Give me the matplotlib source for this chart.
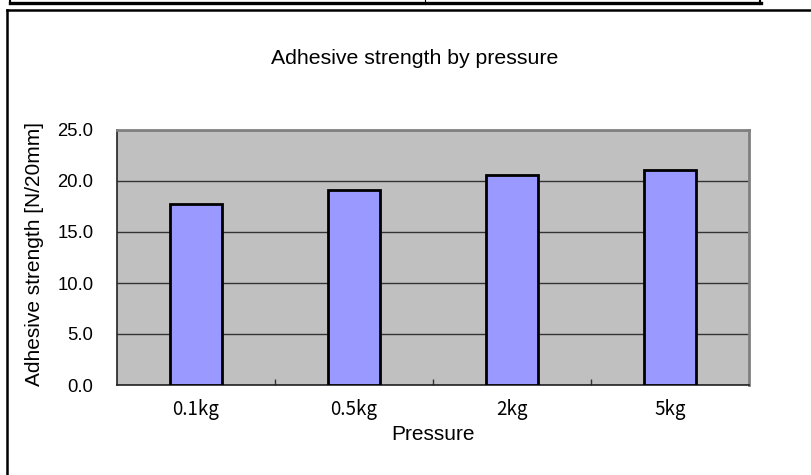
import matplotlib
matplotlib.use("Agg")
import matplotlib.pyplot as plt
from matplotlib.lines import Line2D
from matplotlib.ticker import FormatStrFormatter

categories = ["0.1kg", "0.5kg", "2kg", "5kg"]
values = [17.7, 19.1, 20.55, 21.05]
yticks = [0, 5, 10, 15, 20, 25]
title = "Adhesive strength by pressure"
xlabel = "Pressure"
ylabel = "Adhesive strength [N/20mm]"

W, H = 812, 475
fig = plt.figure(figsize=(W / 100, H / 100), dpi=100)
fig.patch.set_facecolor("white")

def fx(px):
    return px / W

def fy(py):
    return 1 - py / H

# Decorative frame lines (top table edge and chart box)
fig.add_artist(Line2D([fx(10), fx(761)], [fy(2.5), fy(2.5)], color="black", lw=2.4, transform=fig.transFigure))
fig.add_artist(Line2D([fx(10.5), fx(10.5)], [fy(0), fy(4)], color="black", lw=1.5, transform=fig.transFigure))
fig.add_artist(Line2D([fx(760.5), fx(760.5)], [fy(0), fy(4)], color="black", lw=1.5, transform=fig.transFigure))
fig.add_artist(Line2D([fx(425), fx(425)], [fy(0), fy(4)], color="black", lw=0.8, transform=fig.transFigure))
fig.add_artist(Line2D([fx(6.5), fx(812)], [fy(10), fy(10)], color="black", lw=1.8, transform=fig.transFigure))
fig.add_artist(Line2D([fx(6.5), fx(6.5)], [fy(10), fy(475)], color="black", lw=1.8, transform=fig.transFigure))

ax = fig.add_axes([fx(117), fy(385), fx(749) - fx(117), fy(130) - fy(385)])
ax.set_facecolor("#C0C0C0")
x = list(range(len(categories)))
ax.bar(x, values, width=0.335, color="#9999FF", edgecolor="black", linewidth=2, zorder=3)
ax.set_xlim(-0.5, len(categories) - 0.5)
ax.set_ylim(0, 25)
ax.set_yticks(yticks)
ax.yaxis.set_major_formatter(FormatStrFormatter("%.1f"))
ax.yaxis.grid(True, color="#333333", lw=1.0, zorder=1)
ax.set_axisbelow(True)
ax.tick_params(axis="y", length=0, pad=17, labelsize=13.3)
for lab in ax.get_yticklabels():
    lab.set_family(["Liberation Sans", "DejaVu Sans"])
ax.set_xticks(x)
ax.set_xticklabels(categories, family=["Noto Sans CJK JP", "DejaVu Sans"], fontsize=13.5)
ax.tick_params(axis="x", which="major", length=0, pad=10)
ax.set_xticks([i + 0.5 for i in x[:-1]], minor=True)
ax.tick_params(axis="x", which="minor", direction="in", length=4, width=1, color="#333333")

for s in ["left", "bottom"]:
    ax.spines[s].set_color("#222222")
    ax.spines[s].set_linewidth(1.2)
for s in ["top", "right"]:
    ax.spines[s].set_color("#808080")
    ax.spines[s].set_linewidth(2)

fam = ["Liberation Sans", "DejaVu Sans"]
fig.text(fx(415), fy(58), title, ha="center", va="center", fontsize=15.3, family=fam)
fig.text(fx(433), fy(435), xlabel, ha="center", va="center", fontsize=15, family=fam)
fig.text(fx(35), fy(254), ylabel, ha="center", va="center", rotation=90, fontsize=15, family=fam)

fig.savefig("out.png", dpi=100)
